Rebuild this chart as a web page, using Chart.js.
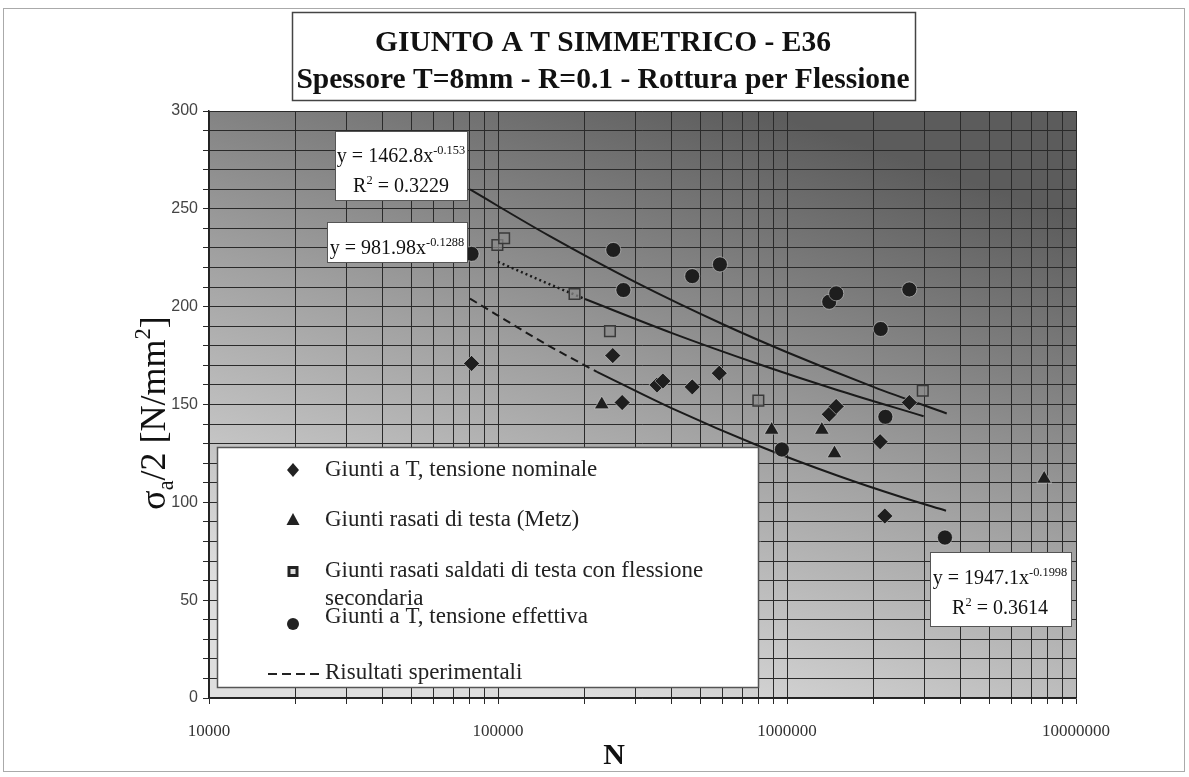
<!DOCTYPE html>
<html><head><meta charset="utf-8">
<script src="https://cdn.jsdelivr.net/npm/chart.js@4.4.0/dist/chart.umd.min.js"></script>
<style>html,body{margin:0;padding:0;background:#fff;}canvas{display:block;}</style>
</head><body>
<canvas id="c" width="1189" height="777"></canvas>
<script>
// ---- data ----
const nominaleN = [81000, 249500, 269000, 355000, 372000, 470000, 583000, 757000, 1400000, 1480000, 2100000, 2180000, 2650000];
const nominaleS = [171, 175, 151, 160, 162, 159, 166, 80, 145, 149, 131, 93, 151];
const metzN = [228600, 885000, 1320000, 1460000, 7760000];
const metzS = [150, 137, 137, 125, 112];
const secondariaN = [99500, 105000, 184000, 244000, 796000, 2950000];
const secondariaS = [231.5, 235, 206.5, 187.5, 152, 157];
const effettivaN = [81000, 250600, 271600, 470000, 586000, 960000, 1400000, 1480000, 2110000, 2190000, 2650000, 3520000];
const effettivaS = [227, 229, 208.5, 215.6, 221.6, 127, 202.5, 206.8, 188.6, 143.7, 208.8, 82];

// trend lines
const trendEffN = [80000, 150000, 300000, 600000, 1000000, 2000000, 3570000];
const trendEffS = [259.9, 236.3, 212.4, 191.0, 176.7, 158.9, 145.4];
const trendSecDotN = [100000, 150000, 200000];
const trendSecDotS = [222.9, 211.6, 203.9];
const trendSecN = [200000, 400000, 800000, 1500000, 2970000];
const trendSecS = [203.9, 186.5, 170.6, 157.3, 144.0];
const sperimentaliN = [80000, 150000, 220000];
const sperimentaliS = [204.1, 180.0, 166.7];
const trendNomN = [220000, 400000, 800000, 1500000, 2500000, 3550000];
const trendNomS = [166.7, 148.0, 128.8, 113.6, 102.6, 95.7];

const xTickLabels = ['10000', '100000', '1000000', '10000000'];
const yTickLabels = [0, 50, 100, 150, 200, 250, 300];
const seriesLabels = ['Giunti a T, tensione nominale', 'Giunti rasati di testa (Metz)',
  'Giunti rasati saldati di testa con flessione', 'secondaria', 'Giunti a T, tensione effettiva', 'Risultati sperimentali'];
const titleLines = ['GIUNTO A T SIMMETRICO - E36', 'Spessore T=8mm - R=0.1 - Rottura per Flessione'];

const pts = (xs, ys) => xs.map((x, i) => ({x: x, y: ys[i]}));
const SERIF = "'Liberation Serif', 'Times New Roman', serif";

function rich(ctx, parts, cx, baseY, size, weight) {
  weight = weight || 'normal';
  let total = 0;
  const ws = parts.map(p => {
    const s = p[1] ? size * 0.62 : size;
    ctx.font = weight + ' ' + s + 'px ' + SERIF;
    const w = ctx.measureText(p[0]).width;
    total += w; return w;
  });
  let x = cx - total / 2;
  ctx.textAlign = 'left'; ctx.textBaseline = 'alphabetic';
  parts.forEach((p, i) => {
    const s = p[1] ? size * 0.62 : size;
    ctx.font = weight + ' ' + s + 'px ' + SERIF;
    const dy = p[1] === 1 ? -size * 0.42 : (p[1] === -1 ? size * 0.22 : 0);
    ctx.fillText(p[0], x, baseY + dy);
    x += ws[i];
  });
}

function box(ctx, x1, y1, x2, y2, lw, col) {
  ctx.fillStyle = '#fff';
  ctx.fillRect(x1, y1, x2 - x1, y2 - y1);
  ctx.lineWidth = lw; ctx.strokeStyle = col;
  ctx.strokeRect(x1 + 0.5, y1 + 0.5, x2 - x1, y2 - y1);
}

const decor = {
  id: 'decor',
  beforeDraw(chart) {
    const ctx = chart.ctx, a = chart.chartArea;
    ctx.save();
    ctx.fillStyle = '#fff';
    ctx.fillRect(0, 0, chart.width, chart.height);
    const g = ctx.createLinearGradient(a.left + 0.64 * (a.right - a.left), a.top, a.left + 0.41 * (a.right - a.left), a.bottom);
    g.addColorStop(0, '#5c5c5c');
    g.addColorStop(0.5, '#a0a0a0');
    g.addColorStop(1, '#dedede');
    ctx.fillStyle = g;
    ctx.fillRect(a.left, a.top, a.right - a.left, a.bottom - a.top);
    ctx.restore();
  },
  afterDraw(chart) {
    const ctx = chart.ctx;
    ctx.save();
    // outer frame
    ctx.strokeStyle = '#aaa'; ctx.lineWidth = 1;
    ctx.strokeRect(3.5, 8.5, 1181, 763);
    // title box
    box(ctx, 292, 12, 915, 100, 1.5, '#444');
    ctx.fillStyle = '#111';
    ctx.textAlign = 'center'; ctx.textBaseline = 'alphabetic';
    ctx.font = 'bold 29.5px ' + SERIF;
    ctx.fillText(titleLines[0], 603, 51);
    ctx.fillText(titleLines[1], 603, 88);

    // equation boxes
    box(ctx, 335, 131, 467, 200, 1, '#555');
    ctx.fillStyle = '#111';
    rich(ctx, [['y = 1462.8x', 0], ['-0.153', 1]], 401, 162, 20);
    rich(ctx, [['R', 0], ['2', 1], [' = 0.3229', 0]], 401, 192, 20);
    box(ctx, 327, 222, 467, 262, 1, '#555');
    ctx.fillStyle = '#111';
    rich(ctx, [['y = 981.98x', 0], ['-0.1288', 1]], 397, 254, 20);
    box(ctx, 930, 552, 1071, 626, 1, '#555');
    ctx.fillStyle = '#111';
    rich(ctx, [['y = 1947.1x', 0], ['-0.1998', 1]], 1000, 584, 20);
    rich(ctx, [['R', 0], ['2', 1], [' = 0.3614', 0]], 1000, 614, 20);

    // legend
    box(ctx, 217, 447, 758, 687, 1.5, '#555');
    ctx.fillStyle = '#222'; ctx.strokeStyle = '#222';
    const mx = 293;
    // diamond
    ctx.beginPath(); ctx.moveTo(mx, 463); ctx.lineTo(mx + 6, 470); ctx.lineTo(mx, 477); ctx.lineTo(mx - 6, 470); ctx.closePath(); ctx.fill();
    // triangle
    ctx.beginPath(); ctx.moveTo(mx, 513); ctx.lineTo(mx + 6.5, 525); ctx.lineTo(mx - 6.5, 525); ctx.closePath(); ctx.fill();
    // square
    ctx.fillRect(mx - 5.5, 566, 11, 11);
    ctx.fillStyle = '#ddd'; ctx.fillRect(mx - 2.5, 569, 5, 5); ctx.fillStyle = '#222';
    // circle
    ctx.beginPath(); ctx.arc(mx, 624, 6, 0, Math.PI * 2); ctx.fill();
    // dashed line
    ctx.lineWidth = 2; ctx.setLineDash([9, 5]);
    ctx.beginPath(); ctx.moveTo(268, 674); ctx.lineTo(321, 674); ctx.stroke();
    ctx.setLineDash([]);
    ctx.font = '23px ' + SERIF; ctx.textAlign = 'left'; ctx.textBaseline = 'middle';
    ctx.fillText(seriesLabels[0], 325, 470);
    ctx.fillText(seriesLabels[1], 325, 520);
    ctx.fillText(seriesLabels[2], 325, 571);
    ctx.fillText(seriesLabels[3], 325, 599);
    ctx.fillText(seriesLabels[4], 325, 617);
    ctx.fillText(seriesLabels[5], 325, 673);

    // axis titles
    ctx.fillStyle = '#111';
    ctx.textBaseline = 'alphabetic'; ctx.textAlign = 'center';
    ctx.font = 'bold 30px ' + SERIF;
    ctx.fillText('N', 614, 764);
    ctx.translate(165, 413);
    ctx.rotate(-Math.PI / 2);
    rich(ctx, [['σ', 0], ['a', -1], ['/2 [N/mm', 0], ['2', 1], [']', 0]], 0, 0, 36);
    ctx.restore();
  }
};

const darkMarker = '#1e1e1e';
const lineCol = '#1a1a1a';

new Chart(document.getElementById('c'), {
  type: 'scatter',
  data: {
    datasets: [
      {label: seriesLabels[0], data: pts(nominaleN, nominaleS), pointStyle: 'rectRot', pointRadius: 8,
        backgroundColor: darkMarker, borderColor: 'rgba(230,230,230,0.5)', borderWidth: 1, order: 0},
      {label: seriesLabels[1], data: pts(metzN, metzS), pointStyle: 'triangle', pointRadius: 8.5,
        backgroundColor: darkMarker, borderColor: 'rgba(230,230,230,0.5)', borderWidth: 1, order: 0},
      {label: seriesLabels[2], data: pts(secondariaN, secondariaS), pointStyle: 'rect', pointRadius: 7.5,
        backgroundColor: 'rgba(140,140,140,0.7)', borderColor: '#3a3a3a', borderWidth: 1.5, order: 0},
      {label: seriesLabels[4], data: pts(effettivaN, effettivaS), pointStyle: 'circle', pointRadius: 7.5,
        backgroundColor: darkMarker, borderColor: 'rgba(230,230,230,0.5)', borderWidth: 1, order: 0},
      {label: 'trend eff', data: pts(trendEffN, trendEffS), showLine: true, pointRadius: 0, borderColor: lineCol,
        borderWidth: 2, cubicInterpolationMode: 'monotone', order: 1},
      {label: 'trend sec dot', data: pts(trendSecDotN, trendSecDotS), showLine: true, pointRadius: 0, borderColor: lineCol,
        borderWidth: 2.5, borderDash: [2, 3], cubicInterpolationMode: 'monotone', order: 1},
      {label: 'trend sec', data: pts(trendSecN, trendSecS), showLine: true, pointRadius: 0, borderColor: lineCol,
        borderWidth: 2, cubicInterpolationMode: 'monotone', order: 1},
      {label: seriesLabels[5], data: pts(sperimentaliN, sperimentaliS), showLine: true, pointRadius: 0, borderColor: lineCol,
        borderWidth: 2, borderDash: [8, 5], cubicInterpolationMode: 'monotone', order: 1},
      {label: 'trend nom', data: pts(trendNomN, trendNomS), showLine: true, pointRadius: 0, borderColor: lineCol,
        borderWidth: 2, cubicInterpolationMode: 'monotone', order: 1}
    ]
  },
  options: {
    responsive: false,
    animation: false,
    devicePixelRatio: 1,
    layout: {padding: {top: 111, right: 113, left: 0, bottom: 0}},
    plugins: {legend: {display: false}, tooltip: {enabled: false}, title: {display: false}},
    scales: {
      x: {
        type: 'logarithmic', min: 10000, max: 10000000, position: 'bottom',
        afterBuildTicks(scale) {
          const t = [];
          for (let e = 4; e <= 7; e++) {
            for (let m = 1; m <= 9; m++) {
              const v = m * Math.pow(10, e);
              if (v <= 10000000) t.push({value: v});
            }
          }
          scale.ticks = t;
        },
        afterFit(scale) { scale.height = 79; },
        grid: {color: '#2a2a2a', lineWidth: 1, tickLength: 6, drawTicks: true},
        border: {display: true, color: '#222', width: 1.5},
        ticks: {
          autoSkip: false, maxRotation: 0, minRotation: 0, padding: 17, color: '#333',
          font: {family: SERIF, size: 17},
          callback(v) {
            const s = String(v);
            return xTickLabels.includes(s) ? s : '';
          }
        }
      },
      y: {
        type: 'linear', min: 0, max: 300,
        afterBuildTicks(scale) {
          const t = [];
          for (let v = 0; v <= 300; v += 10) t.push({value: v});
          scale.ticks = t;
        },
        afterFit(scale) { scale.width = 209; },
        grid: {color: '#2a2a2a', lineWidth: 1, tickLength: 6, drawTicks: true},
        border: {display: true, color: '#222', width: 1.5},
        ticks: {
          autoSkip: false, padding: 5, color: '#444',
          font: {family: "'Liberation Sans', Arial, sans-serif", size: 16},
          callback(v) { return yTickLabels.includes(v) ? String(v) : ''; }
        }
      }
    }
  },
  plugins: [decor]
});
</script>
</body></html>
